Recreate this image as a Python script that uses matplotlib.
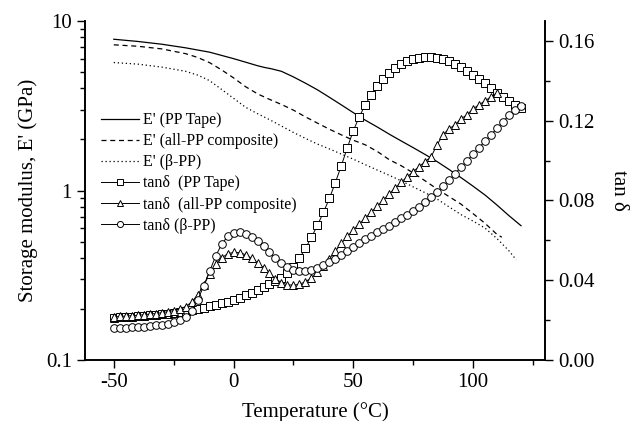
import matplotlib
matplotlib.use("Agg")
import matplotlib.pyplot as plt
from matplotlib.ticker import FixedLocator, FormatStrFormatter, LogLocator, NullFormatter
from matplotlib.lines import Line2D

plt.rcParams['font.family'] = ['Liberation Serif', 'DejaVu Serif']

# ---- Storage modulus E' (GPa) ----
T_solid = [-50, -40, -30, -20, -10, 0, 5, 10, 13, 16, 20, 25, 30, 35, 40, 45, 50, 55, 60,
           65, 70, 75, 80, 85, 90, 95, 100, 105, 110, 115, 120]
E_solid = [7.81, 7.58, 7.30, 6.95, 6.55, 6.00, 5.72, 5.45, 5.32, 5.22, 5.05, 4.68, 4.30, 3.93,
           3.55, 3.20, 2.88, 2.60, 2.37, 2.15, 1.96, 1.79, 1.63, 1.48, 1.33, 1.19, 1.06, 0.94,
           0.82, 0.71, 0.62]

T_dash = [-50, -40, -30, -20, -15, -10, -5, 0, 5, 10, 15, 20, 25, 30, 35, 40, 45, 50, 55, 60,
          65, 70, 75, 80, 85, 90, 95, 100, 105, 110, 112]
E_dash = [7.24, 7.10, 6.85, 6.42, 6.10, 5.68, 5.15, 4.62, 4.10, 3.72, 3.45, 3.22, 2.98, 2.72,
          2.50, 2.30, 2.13, 1.98, 1.86, 1.70, 1.52, 1.40, 1.27, 1.14, 1.02, 0.92, 0.83, 0.73,
          0.64, 0.55, 0.53]

T_dot = [-50, -40, -30, -20, -15, -10, -5, 0, 5, 10, 15, 20, 25, 30, 35, 40, 45, 50, 55, 60,
         65, 70, 75, 80, 85, 90, 95, 100, 105, 110, 115, 118]
E_dot = [5.69, 5.57, 5.35, 5.05, 4.80, 4.45, 3.95, 3.50, 3.10, 2.84, 2.62, 2.40, 2.20, 2.03,
         1.88, 1.76, 1.64, 1.53, 1.42, 1.32, 1.23, 1.14, 1.05, 0.97, 0.89, 0.80, 0.72, 0.66,
         0.60, 0.52, 0.44, 0.39]

# ---- tan delta ----
T_tan = [-50, -47.5, -45, -42.5, -40, -37.5, -35, -32.5, -30, -27.5, -25, -22.5, -20, -17.5,
         -15, -12.5, -10, -7.5, -5, -2.5, 0, 2.5, 5, 7.5, 10, 12.5, 15, 17.5, 20, 22.5, 25,
         27.5, 30, 32.5, 35, 37.5, 40, 42.5, 45, 47.5, 50, 52.5, 55, 57.5, 60, 62.5, 65, 67.5,
         70, 72.5, 75, 77.5, 80, 82.5, 85, 87.5, 90, 92.5, 95, 97.5, 100, 102.5, 105, 107.5,
         110, 112.5, 115, 117.5, 120]

tan_tape = [0.0212, 0.0213, 0.0215, 0.0217, 0.0219, 0.0221, 0.0223, 0.0226, 0.0229, 0.0233,
            0.0237, 0.0241, 0.0244, 0.0249, 0.0255, 0.0262, 0.0269, 0.0276, 0.0284, 0.0293,
            0.0302, 0.0313, 0.0325, 0.0338, 0.0352, 0.0366, 0.0380, 0.0395, 0.0412, 0.0435,
            0.0468, 0.0510, 0.0560, 0.0615, 0.0675, 0.0740, 0.0810, 0.0890, 0.0975, 0.1065,
            0.1150, 0.1220, 0.1280, 0.1330, 0.1375, 0.1410, 0.1440, 0.1465, 0.1485, 0.1500,
            0.1510, 0.1517, 0.1520, 0.1519, 0.1515, 0.1508, 0.1498, 0.1485, 0.1468, 0.1450,
            0.1430, 0.1410, 0.1388, 0.1365, 0.1340, 0.1318, 0.1298, 0.1280, 0.1262]

tan_beta = [0.0160, 0.0161, 0.0162, 0.0163, 0.0165, 0.0167, 0.0170, 0.0173, 0.0177, 0.0182,
            0.0190, 0.0200, 0.0215, 0.0245, 0.0300, 0.0370, 0.0445, 0.0520, 0.0580, 0.0620,
            0.0638, 0.0640, 0.0632, 0.0618, 0.0598, 0.0572, 0.0540, 0.0510, 0.0485, 0.0466,
            0.0453, 0.0446, 0.0446, 0.0452, 0.0462, 0.0475, 0.0490, 0.0507, 0.0525, 0.0545,
            0.0565, 0.0585, 0.0605, 0.0623, 0.0640, 0.0657, 0.0673, 0.0690, 0.0710, 0.0728,
            0.0748, 0.0768, 0.0790, 0.0815, 0.0843, 0.0872, 0.0903, 0.0935, 0.0968, 0.1000,
            0.1032, 0.1065, 0.1098, 0.1130, 0.1162, 0.1195, 0.1228, 0.1255, 0.1275]

T_comp = T_tan[:65]
tan_comp = [0.0216, 0.0218, 0.0220, 0.0222, 0.0224, 0.0227, 0.0230, 0.0233, 0.0237, 0.0242,
            0.0248, 0.0256, 0.0268, 0.0290, 0.0325, 0.0375, 0.0430, 0.0480, 0.0512, 0.0532,
            0.0540, 0.0538, 0.0528, 0.0510, 0.0488, 0.0463, 0.0435, 0.0408, 0.0388, 0.0377,
            0.0375, 0.0380, 0.0392, 0.0412, 0.0440, 0.0472, 0.0508, 0.0545, 0.0585, 0.0620,
            0.0652, 0.0683, 0.0712, 0.0742, 0.0772, 0.0802, 0.0833, 0.0863, 0.0892, 0.0918,
            0.0945, 0.0970, 0.0995, 0.1020, 0.1080, 0.1130, 0.1160, 0.1180, 0.1210, 0.1230,
            0.1260, 0.1280, 0.1300, 0.1320, 0.1340]

labels = ["E' (PP Tape)", "E' (all-PP composite)", "E' (\u03b2-PP)",
          "tan\u03b4  (PP Tape)", "tan\u03b4  (all-PP composite)", "tan\u03b4 (\u03b2-PP)"]

fig = plt.figure(figsize=(6.3, 4.21), dpi=100)
ax = fig.add_axes([0.135, 0.145, 0.730, 0.805])
ax2 = ax.twinx()

ax.plot(T_solid, E_solid, color='black', lw=0.9, ls='-')
ax.plot(T_dash, E_dash, color='black', lw=0.9, ls=(0, (4, 3)))
ax.plot(T_dot, E_dot, color='black', lw=0.9, ls=(0, (1, 2.2)))

mk = dict(color='black', lw=0.7, markerfacecolor='white', markeredgecolor='black',
          markeredgewidth=0.7, markersize=5.5)
ax2.plot(T_tan, tan_tape, marker='s', **mk)
ax2.plot(T_comp, tan_comp, marker='^', **mk)
ax2.plot(T_tan, tan_beta, marker='o', **mk)

ax.set_yscale('log')
ax.set_xlim(-62, 130)
ax.set_ylim(0.1, 10)
ax2.set_ylim(0, 0.17)

ax.set_yticks([0.1, 1, 10])
ax.set_yticklabels(['0.1', '1', '10'])
ax.yaxis.set_minor_locator(LogLocator(base=10, subs=range(2, 10)))
ax.yaxis.set_minor_formatter(NullFormatter())
ax.set_xticks([-50, 0, 50, 100])
ax.set_xticklabels(['-50', '0', '50', '100'])
ax.xaxis.set_minor_locator(FixedLocator([-25, 25, 75, 125]))

ax2.set_yticks([0.0, 0.04, 0.08, 0.12, 0.16])
ax2.yaxis.set_major_formatter(FormatStrFormatter('%.2f'))
ax2.yaxis.set_minor_locator(FixedLocator([0.02, 0.06, 0.10, 0.14]))

for a in (ax, ax2):
    a.spines['top'].set_visible(False)
    a.tick_params(which='major', direction='out', length=6, width=1, labelsize=15)
    a.tick_params(which='minor', direction='out', length=3.5, width=1)
    for s in a.spines.values():
        s.set_linewidth(1.2)

ax.set_xlabel('Temperature (\u00b0C)', fontsize=15, labelpad=7)
ax.set_ylabel("Storage modulus, E' (GPa)", fontsize=15, labelpad=6)
ax2.set_ylabel('tan \u03b4', fontsize=15, rotation=-90, labelpad=24)

handles = [Line2D([], [], color='black', lw=0.9, ls='-'),
           Line2D([], [], color='black', lw=0.9, ls=(0, (4, 3))),
           Line2D([], [], color='black', lw=0.9, ls=(0, (1, 2.2))),
           Line2D([], [], marker='s', **mk),
           Line2D([], [], marker='^', **mk),
           Line2D([], [], marker='o', **mk)]
ax.legend(handles, labels, loc='upper left', bbox_to_anchor=(0.02, 0.75), frameon=False,
          fontsize=11.5, handlelength=2.4, handletextpad=0.25, labelspacing=0.32,
          borderaxespad=0, markerscale=0.8)

fig.savefig('out.png', dpi=100)
